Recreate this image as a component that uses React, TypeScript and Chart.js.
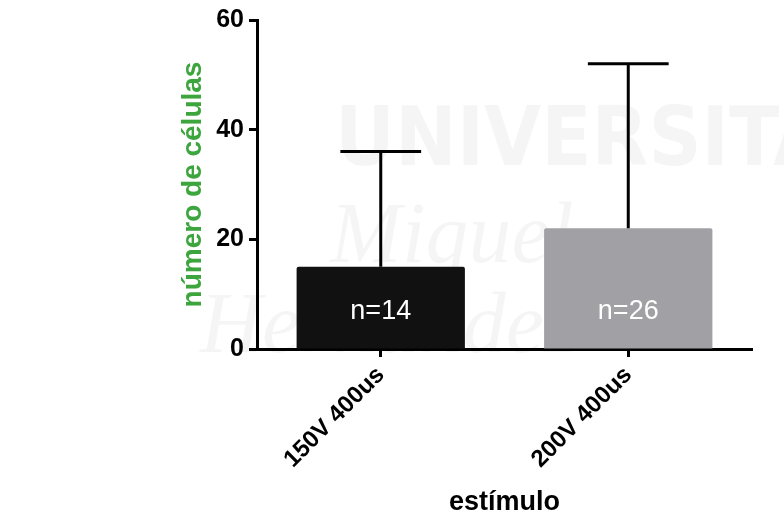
import React, { useEffect, useRef } from "react";
import { Chart, registerables } from "chart.js";

Chart.register(...registerables);

const categories = ["150V 400us", "200V 400us"];
const means = [15, 22];
const sds = [21, 30];
const nLabels = ["n=14", "n=26"];
const barColors = ["#111111", "#a1a1a5"];
const yTicks = [0, 20, 40, 60];

const FONT = "Arial, 'Liberation Sans', Helvetica, sans-serif";

const watermarkPlugin = {
  id: "watermark",
  beforeDraw(chart: any) {
    const ctx = chart.ctx;
    ctx.save();
    ctx.fillStyle = "rgba(0,0,0,0.04)";
    ctx.textBaseline = "alphabetic";
    ctx.textAlign = "left";
    ctx.font = "bold 82px 'Liberation Sans Narrow', 'DejaVu Sans Condensed', sans-serif";
    ctx.fillText("UNIVERSITAS", 335, 165);
    ctx.font = "italic 86px 'Liberation Serif', serif";
    ctx.fillText("Miguel", 330, 262);
    ctx.fillText("Hernández", 200, 352);
    ctx.restore();
  },
};

const errorBarPlugin = {
  id: "errorBars",
  afterDatasetsDraw(chart: any) {
    const ctx = chart.ctx;
    const y = chart.scales.y;
    const meta = chart.getDatasetMeta(0);
    ctx.save();
    ctx.strokeStyle = "#000000";
    ctx.lineWidth = 3;
    meta.data.forEach((bar: any, i: number) => {
      const top = y.getPixelForValue(means[i] + sds[i]);
      const base = y.getPixelForValue(means[i]);
      const half = bar.width * 0.24;
      ctx.beginPath();
      ctx.moveTo(bar.x, base);
      ctx.lineTo(bar.x, top);
      ctx.moveTo(bar.x - half, top);
      ctx.lineTo(bar.x + half, top);
      ctx.stroke();
    });
    ctx.fillStyle = "#ffffff";
    ctx.font = `27px ${FONT}`;
    ctx.textAlign = "center";
    ctx.textBaseline = "middle";
    meta.data.forEach((bar: any, i: number) => {
      ctx.fillText(nLabels[i], bar.x, y.getPixelForValue(6.9));
    });
    ctx.restore();
  },
};

export default function App() {
  const ref = useRef<HTMLCanvasElement | null>(null);
  useEffect(() => {
    if (!ref.current) return;
    const chart = new Chart(ref.current, {
      type: "bar",
      data: {
        labels: categories,
        datasets: [
          {
            data: means,
            backgroundColor: barColors,
            borderWidth: 0,
            borderRadius: 2,
            borderSkipped: "bottom",
            barPercentage: 0.68,
            categoryPercentage: 1,
          },
        ],
      },
      options: {
        animation: false,
        responsive: true,
        maintainAspectRatio: false,
        layout: { padding: { left: 160, right: 32, top: 12, bottom: 0 } },
        plugins: {
          legend: { display: false },
          tooltip: { enabled: false },
        },
        scales: {
          x: {
            offset: true,
            grid: {
              display: true,
              offset: false,
              drawOnChartArea: false,
              drawTicks: true,
              tickLength: 8,
              tickWidth: 3,
              tickColor: "#000000",
            },
            border: { display: true, color: "#000000", width: 3 },
            ticks: {
              color: "#000000",
              font: { family: FONT, size: 24, weight: "bold" },
              minRotation: 45,
              maxRotation: 45,
              padding: 4,
            },
            title: {
              display: true,
              text: "estímulo",
              color: "#000000",
              font: { family: FONT, size: 27, weight: "bold" },
              padding: { top: 0, bottom: -2 },
            },
            afterFit(scale: any) {
              scale.height = 168;
            },
          },
          y: {
            min: 0,
            max: 60,
            afterBuildTicks(scale: any) {
              scale.ticks = yTicks.map((v) => ({ value: v }));
            },
            grid: {
              display: true,
              drawOnChartArea: false,
              drawTicks: true,
              tickLength: 8,
              tickWidth: 3,
              tickColor: "#000000",
            },
            border: { display: true, color: "#000000", width: 3 },
            ticks: {
              color: "#000000",
              font: { family: FONT, size: 25, weight: "bold" },
              padding: 5,
            },
            title: {
              display: true,
              text: "número de células",
              color: "#3da53d",
              font: { family: FONT, size: 28, weight: "bold" },
              padding: { top: 16, bottom: 0 },
            },
            afterFit(scale: any) {
              scale.width = 97;
            },
          },
        },
      },
      plugins: [watermarkPlugin, errorBarPlugin],
    });
    return () => chart.destroy();
  }, []);
  return (
    <div style={{ position: "fixed", left: 0, top: 0, width: 784, height: 517, background: "#ffffff" }}>
      <canvas ref={ref} />
    </div>
  );
}
